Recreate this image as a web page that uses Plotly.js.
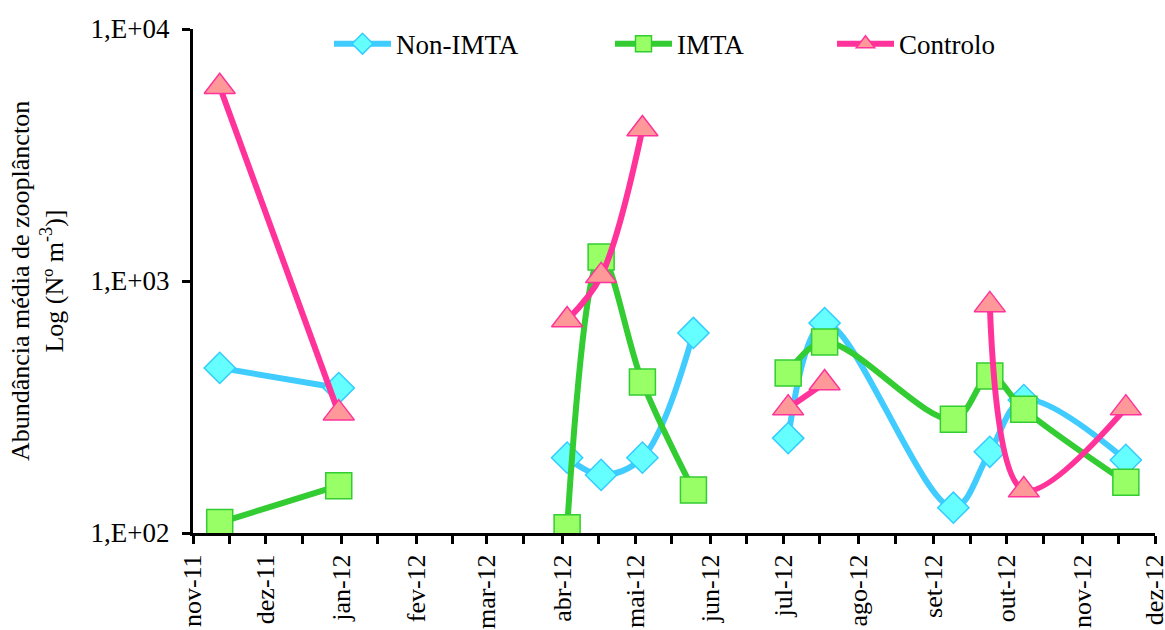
<!DOCTYPE html>
<html>
<head>
<meta charset="utf-8">
<script src="https://cdn.plot.ly/plotly-3.0.1.min.js"></script>
<style>html,body{margin:0;padding:0;background:#fff;}#chart{width:1165px;height:630px;}</style>
</head>
<body>
<div id="chart"></div>
<script>
// Sampling dates (null rows mark interruptions in the series)
const sampleDates = ['2011-11-12','2011-12-31','2012-02-15','2012-04-03','2012-04-17','2012-05-04','2012-05-25','2012-06-15','2012-07-03','2012-07-18','2012-09-09','2012-09-24','2012-10-08','2012-11-19'];
const nonImta  = [452, 376, null, 199, 170, 199, 622, null, 238, 681, 126, 210, 337, 195];
const imta     = [110, 154, null, 105, 1245, 397, 148, null, 431, 573, 283, 420, 310, 159];
const controlo = [5900, 299, null, 700, 1048, 4010, null, null, 313, 394, null, 804, 148, 313];

const monthTickVals = ['2011-11-01','2011-12-01','2012-01-01','2012-02-01','2012-03-01','2012-04-01','2012-05-01','2012-06-01','2012-07-01','2012-08-01','2012-09-01','2012-10-01','2012-11-01','2012-12-01'];
const monthTickText = ['nov-11','dez-11','jan-12','fev-12','mar-12','abr-12','mai-12','jun-12','jul-12','ago-12','set-12','out-12','nov-12','dez-12'];
const yTickVals = [100, 1000, 10000];
const yTickText = ['1,E+02','1,E+03','1,E+04'];

const FONT = '"Liberation Serif", "Times New Roman", Times, serif';

const traces = [
  {name:'Non-IMTA', x:sampleDates, y:nonImta, type:'scatter', mode:'lines+markers', connectgaps:false,
   line:{color:'#40CCFF', width:6, shape:'spline', smoothing:1},
   marker:{symbol:'diamond', size:24, color:'#66FFFF', line:{color:'#33CCFF', width:1.5}}, legend:'legend'},
  {name:'IMTA', x:sampleDates, y:imta, type:'scatter', mode:'lines+markers', connectgaps:false,
   line:{color:'#33CC33', width:6, shape:'spline', smoothing:1},
   marker:{symbol:'square', size:26, color:'#99FF66', line:{color:'#33CC33', width:1.5}}, legend:'legend2'},
  {name:'Controlo', x:sampleDates, y:controlo, type:'scatter', mode:'lines+markers', connectgaps:false,
   line:{color:'#FF3399', width:6, shape:'spline', smoothing:1},
   marker:{symbol:'triangle-up', size:27, color:'#FF9999', line:{color:'#FF3399', width:1.5}}, legend:'legend3'}
];

const legendBase = {orientation:'h', yanchor:'middle', xanchor:'left', y:0.97, bgcolor:'rgba(0,0,0,0)',
  font:{family:FONT, size:27, color:'#000'}, itemwidth:57};

const layout = {
  width:1165, height:630,
  margin:{l:193, r:10, t:29, b:97},
  paper_bgcolor:'#fff', plot_bgcolor:'#fff',
  font:{family:FONT, size:27, color:'#000'},
  showlegend:true,
  legend:Object.assign({}, legendBase, {x:(337-193-8)/962}),
  legend2:Object.assign({}, legendBase, {x:(618-193-8)/962}),
  legend3:Object.assign({}, legendBase, {x:(840-193-8)/962}),
  xaxis:{
    type:'date', range:['2011-11-01','2012-12-01'],
    tickmode:'array', tickvals:monthTickVals, ticktext:monthTickText, tickangle:-90,
    ticklabeloverflow:'allow',
    ticks:'outside', ticklen:8, tickwidth:3, tickcolor:'#000',
    minor:{ticks:'outside', ticklen:8, tickwidth:3, tickcolor:'#000', tick0:'2011-11-16', dtick:'M1', showgrid:false},
    showline:true, linecolor:'#000', linewidth:3, showgrid:false, zeroline:false,
    tickfont:{family:FONT, size:26, color:'#000'}
  },
  yaxis:{
    type:'log', range:[2,4],
    tickmode:'array', tickvals:yTickVals, ticktext:yTickText,
    ticks:'outside', ticklen:8, tickwidth:3, tickcolor:'#000', ticklabelstandoff:7,
    showline:true, linecolor:'#000', linewidth:3, showgrid:false, zeroline:false,
    tickfont:{family:FONT, size:27, color:'#000'},
    title:{text:'Abundância média de zooplâncton<br>Log (Nº m<sup>-3</sup>)]', font:{family:FONT, size:26, color:'#000'}, standoff:20}
  }
};

Plotly.newPlot('chart', traces, layout, {displayModeBar:false, responsive:false});
</script>
</body>
</html>
